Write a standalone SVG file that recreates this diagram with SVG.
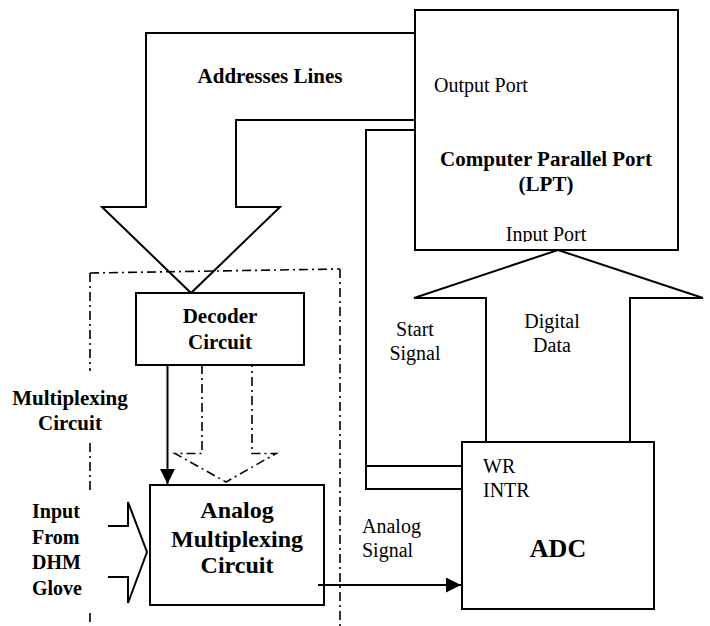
<svg xmlns="http://www.w3.org/2000/svg" width="710" height="626" viewBox="0 0 710 626">
  <style>
    .ln { fill: none; stroke: #000; stroke-width: 2; }
    .box { fill: #fff; stroke: #000; stroke-width: 2; }
    .dd { fill: none; stroke: #000; stroke-width: 1.6; stroke-dasharray: 9 4 2 4; }
    text { font-family: "Liberation Serif", "Times New Roman", serif; fill: #000; }
    .n { font-size: 20px; }
    .b { font-size: 21px; font-weight: bold; }
    .c { text-anchor: middle; }
  </style>
  <defs>
    <marker id="head" viewBox="0 0 10 10" refX="10" refY="5" markerWidth="7.5" markerHeight="7.5" markerUnits="strokeWidth" orient="auto">
      <path d="M0,0 L10,5 L0,10 Z" fill="#000"/>
    </marker>
    <clipPath id="portClip">
      <rect x="415" y="200" width="263" height="42"/>
    </clipPath>
  </defs>

  <!-- multiplexing circuit enclosure (dash-dot) -->
  <g id="enclosure">
    <path class="dd" d="M90,273 L340,269"/>
    <path class="dd" d="M90,273 V371 M90,443 V490 M90,613 V626"/>
    <path class="dd" d="M340,269 V626"/>
    <text class="b c" x="70" y="405">Multiplexing</text>
    <text class="b c" x="70" y="430">Circuit</text>
  </g>

  <!-- connectors -->
  <g id="connectors">
    <!-- address lines bus arrow -->
    <path class="ln" d="M415,33 H146 V207 H102 L191,293 L280,207 H236 V120 H415"/>
    <!-- digital data bus arrow -->
    <path class="ln" d="M486,442 V298 H414 L558,250 L703,298 H630 V442"/>
    <!-- start signal / WR / INTR -->
    <path class="ln" d="M415,130 H366 V489 H462 M366,466 H462"/>
    <!-- decoder to multiplexer select line -->
    <path class="ln" d="M167.5,365 V484" marker-end="url(#head)"/>
    <!-- dashed bus arrow -->
    <path class="dd" d="M202,365 V453.5 H175 L226,482 L276,453.5 H252 V365"/>
    <!-- glove input arrow -->
    <path class="ln" d="M108,526 H128 V502 L147,552 L128,603 V577 H108"/>
    <!-- analog signal -->
    <path class="ln" d="M318,585 H461" marker-end="url(#head)"/>
  </g>

  <g id="lpt">
    <rect class="ln" x="415" y="10" width="263" height="240"/>
    <text class="n" x="434" y="92">Output Port</text>
    <text class="b c" x="546" y="166">Computer Parallel Port</text>
    <text class="b c" x="546" y="191">(LPT)</text>
    <text class="n c" x="546" y="241" clip-path="url(#portClip)">Input Port</text>
  </g>

  <g id="decoder">
    <rect class="box" x="136" y="293" width="168" height="72"/>
    <text class="b c" x="220" y="323">Decoder</text>
    <text class="b c" x="220" y="349">Circuit</text>
  </g>

  <g id="analog-mux">
    <rect class="ln" x="150" y="485" width="174" height="120"/>
    <text class="b c" x="237" y="518" style="font-size:24px">Analog</text>
    <text class="b c" x="237" y="547" style="font-size:24px">Multiplexing</text>
    <text class="b c" x="237" y="573" style="font-size:24px">Circuit</text>
  </g>

  <g id="adc">
    <rect class="ln" x="462" y="442" width="192" height="167"/>
    <text class="n" x="483" y="473">WR</text>
    <text class="n" x="483" y="497">INTR</text>
    <text class="b c" x="558" y="557" style="font-size:26px">ADC</text>
  </g>

  <g id="labels">
    <text class="b c" x="270" y="83">Addresses Lines</text>
    <text class="n c" x="415" y="336">Start</text>
    <text class="n c" x="415" y="360">Signal</text>
    <text class="n c" x="552" y="328">Digital</text>
    <text class="n c" x="552" y="352">Data</text>
    <text class="n" x="362" y="533">Analog</text>
    <text class="n" x="362" y="557">Signal</text>
    <text class="b" x="32" y="518" style="font-size:20px">Input</text>
    <text class="b" x="32" y="544" style="font-size:20px">From</text>
    <text class="b" x="32" y="569" style="font-size:20px">DHM</text>
    <text class="b" x="32" y="595" style="font-size:20px">Glove</text>
  </g>
</svg>
